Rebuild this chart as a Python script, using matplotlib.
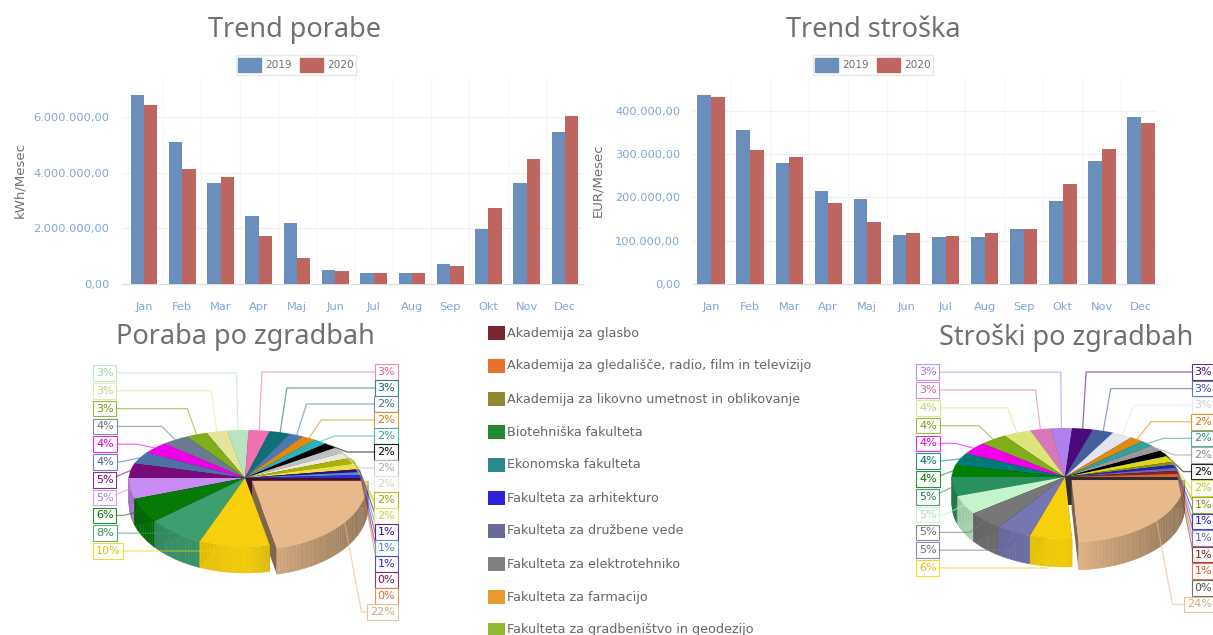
#! /usr/bin/env python3

# Trend and building charts for energy use and cost

import numpy as np
import matplotlib
matplotlib.use("Agg")
import matplotlib.pyplot as plt
from matplotlib.patches import Rectangle, Patch
from matplotlib.ticker import FuncFormatter

months = ['Jan', 'Feb', 'Mar', 'Apr', 'Maj', 'Jun', 'Jul', 'Aug', 'Sep', 'Okt', 'Nov', 'Dec']
years = ['2019', '2020']

use_2019 = [6790000, 5100000, 3630000, 2450000, 2180000, 510000, 380000, 410000, 720000, 1970000, 3630000, 5450000]
use_2020 = [6430000, 4130000, 3840000, 1730000, 940000, 460000, 410000, 410000, 630000, 2720000, 4480000, 6040000]
cost_2019 = [436000, 356000, 280000, 215000, 196000, 113000, 108000, 108000, 127000, 192000, 284000, 386000]
cost_2020 = [432000, 310000, 293000, 187000, 143000, 117000, 111000, 118000, 127000, 231000, 312000, 372000]

# pie slices clockwise, the big slice first
use_shares = [22, 10, 8, 6, 5, 5, 4, 4, 4, 3, 3, 3, 3, 3, 2, 2, 2, 2, 2, 2, 2, 2, 1, 1, 1, 0, 0]
use_colors = ['#e8b98a', '#f7cf0a', '#3d9e70', '#057a05', '#c98cf5', '#7a0a7a', '#4f6fa8',
              '#f000e8', '#6b7a8f', '#7fae1a', '#e4e49c', '#b8e4c0', '#f070b0', '#0f6f78',
              '#4a7ab0', '#e08a10', '#30b0b8', '#000000', '#c0c0c0', '#e8e8dc', '#b0b000',
              '#e4e44a', '#3a0a80', '#5a8ad0', '#3030d0', '#7a1a5a', '#e08040']
cost_shares = [24, 6, 5, 5, 5, 5, 4, 4, 4, 4, 4, 3, 3, 3, 3, 3, 2, 2, 2, 2, 2, 1, 1, 1, 1, 1, 0]
cost_colors = ['#e8b98a', '#f7cf0a', '#7676b0', '#777777', '#c4f4cc', '#2a9060', '#008000',
               '#007a78', '#f000e8', '#7fae1a', '#dce47a', '#d878b8', '#b080f0', '#4a0a7a',
               '#44609c', '#e4e4f0', '#e08a10', '#30a0a0', '#999999', '#000000', '#d8d820',
               '#909010', '#2020c8', '#6a6ab0', '#8a2020', '#e06030', '#555555']

legend_names = ['Akademija za glasbo', 'Akademija za gledališče, radio, film in televizijo',
                'Akademija za likovno umetnost in oblikovanje', 'Biotehniška fakulteta',
                'Ekonomska fakulteta', 'Fakulteta za arhitekturo', 'Fakulteta za družbene vede',
                'Fakulteta za elektrotehniko', 'Fakulteta za farmacijo',
                'Fakulteta za gradbeništvo in geodezijo']
legend_colors = ['#7a2630', '#e8702a', '#8a8a30', '#1f8a30', '#2a8a90', '#3020d8',
                 '#6a6a98', '#808080', '#e89a30', '#90b830']

BLUE = '#6b8fbc'
RED = '#bf6560'
TICK = '#7ea6d8'
GREY = '#707070'
W, H = 1213, 635

plt.rcParams['font.family'] = ['Noto Sans', 'DejaVu Sans']
fig = plt.figure(figsize=(W / 100, H / 100), dpi=100)


def slo_number(v, pos=None):
    s = f'{v:,.2f}'
    return s.replace(',', ' ').replace('.', ',').replace(' ', '.')


def trend(left, right, first, last, vals_a, vals_b, ymax, step, ylabel, ylabel_x, leg_x):
    ax = fig.add_axes([left / W, 1 - 284 / H, (right - left) / W, 206 / H])
    x = np.arange(len(months))
    ax.bar(x - 0.175, vals_a, 0.35, color=BLUE, zorder=3)
    ax.bar(x + 0.175, vals_b, 0.35, color=RED, zorder=3)
    unit = (last - first) / 11
    ax.set_xlim(-(first - left) / unit, 11 + (right - last) / unit)
    ax.set_ylim(0, ymax)
    ax.set_xticks(x, months)
    ax.set_yticks(np.arange(0, ymax, step))
    ax.yaxis.set_major_formatter(FuncFormatter(slo_number))
    ax.set_xticks(x[:-1] + 0.5, minor=True)
    ax.tick_params(axis='y', which='both', length=0, pad=9)
    ax.tick_params(axis='x', which='both', length=0, pad=13)
    for lab in ax.get_xticklabels() + ax.get_yticklabels():
        lab.set_family('DejaVu Sans')
        lab.set_fontsize(8.2)
        lab.set_color(TICK)
    ax.grid(axis='y', color='#f0f0f0', lw=0.8, zorder=0)
    ax.grid(axis='x', which='minor', color='#f5f5f8', lw=0.8, zorder=0)
    for side in ['top', 'right', 'left']:
        ax.spines[side].set_visible(False)
    ax.spines['bottom'].set_color('#d8dce4')
    fig.text(ylabel_x / W, 1 - 180 / H, ylabel, rotation=90, color=GREY, fontsize=9.5,
             ha='center', va='center', family='DejaVu Sans')
    fig.legend(handles=[Patch(color=BLUE, label=years[0]), Patch(color=RED, label=years[1])],
               loc='center', bbox_to_anchor=(leg_x / W, 1 - 65 / H), ncol=2,
               prop={'family': 'DejaVu Sans', 'size': 7.6},
               frameon=True, edgecolor='#e8e8e8', fancybox=False, framealpha=1,
               handlelength=2.2, handleheight=1.8, handletextpad=0.4, columnspacing=0.8,
               borderpad=0.2, labelcolor=GREY)


def shade(color, f):
    rgb = np.array(matplotlib.colors.to_rgb(color))
    return tuple(np.clip(rgb * f, 0, 1))


def pie3d(ax, shares, colors, cx, cy, rx, ry_back, ry_front, depth, n_left, left_col, right_col, blast):
    total = sum(shares)
    angles = -np.cumsum([0] + shares) / total * 2 * np.pi
    mids = (angles[:-1] + angles[1:]) / 2

    # the near half of the pie is drawn taller, as in the perspective of the original
    def pt(th):
        s = np.sin(th)
        return cx + rx * np.cos(th), cy - np.where(s > 0, ry_back, ry_front) * s

    # back slices first, front slices over them
    for i in np.argsort(-np.sin(mids)):
        a, b = angles[i], angles[i + 1]
        off = blast if i == 0 else 0
        dx, dy = off * np.cos(mids[i]), -off * 0.5 * np.sin(mids[i])
        arc = np.linspace(a, b, max(int((a - b) * 40), 2))
        px, py = pt(arc)
        px = px + dx
        py = py + dy
        for k in [a, b]:
            ex, ey = pt(k)
            ax.fill([cx + dx, ex + dx, ex + dx, cx + dx], [cy + dy, ey + dy, ey + dy + depth, cy + dy + depth],
                    color=shade(colors[i], 0.55), lw=0, zorder=2)
        for j in range(len(arc) - 1):
            if np.sin(arc[j]) > 0.03:
                continue
            c = np.cos(arc[j])
            f = 0.98 - 0.35 * max(c, 0) - 0.15 * max(-c, 0)
            ax.fill([px[j], px[j + 1], px[j + 1], px[j]],
                    [py[j], py[j + 1], py[j + 1] + depth, py[j] + depth],
                    color=shade(colors[i], f), lw=0.3, zorder=2)
        ax.fill(np.r_[cx + dx, px], np.r_[cy + dy, py], color=colors[i], lw=0, zorder=2)

    # leader lines and the label boxes
    n = len(shares)
    rows = []
    for r in range(n_left):
        rows.append((r + 1, left_col[0], left_col[1] - r * left_col[2], 'left'))
    for r in range(n - n_left - 1):
        rows.append((n_left + 1 + r, right_col[0], right_col[1] + r * right_col[2], 'right'))
    rows.append((0, right_col[0], right_col[1] + (n - n_left - 1) * right_col[2], 'right'))
    for i, lx, ly, ha in rows:
        ex, ey = pt(mids[i])
        if i == 0:
            ex += blast
        elbow = ex + 22 * np.cos(mids[i])
        ax.plot([lx, elbow, ex], [ly, ly, ey], color=colors[i], lw=0.9, alpha=0.6, zorder=3)
        ax.text(lx, ly, f'{shares[i]}%', color=shade(colors[i], 0.9), fontsize=8, ha=ha, va='center', zorder=4,
                family='DejaVu Sans',
                bbox=dict(boxstyle='square,pad=0.25', fc='white', ec=colors[i], lw=0.8, alpha=0.85))


trend(122, 583, 144, 565, use_2019, use_2020, 7400000, 2000000, 'kWh/Mesec', 20, 296)
trend(693, 1157, 711, 1141, cost_2019, cost_2020, 475000, 100000, 'EUR/Mesec', 598, 873)

over = fig.add_axes([0, 0, 1, 1], facecolor='none')
over.set_xlim(0, W)
over.set_ylim(H, 0)
over.axis('off')

over.text(295, 30, 'Trend porabe', fontsize=19.5, color=GREY, ha='center', va='center')
over.text(873, 30, 'Trend stroška', fontsize=19.5, color=GREY, ha='center', va='center')
over.text(245, 337, 'Poraba po zgradbah', fontsize=19.5, color=GREY, ha='center', va='center')
over.text(1066, 338, 'Stroški po zgradbah', fontsize=19.5, color=GREY, ha='center', va='center')

pie3d(over, use_shares, use_colors, 245, 478, 116, 48, 69, 26, 11, (96, 551, 17.8), (395, 372, 16), 9)
pie3d(over, cost_shares, cost_colors, 1065, 477, 113, 49, 62, 28, 12, (919, 568, 17.8), (1212, 372, 16.6), 9)

for i, name in enumerate(legend_names):
    y = 333 + i * 33
    over.add_patch(Rectangle((488, y - 7), 17, 14, color=legend_colors[i], lw=0))
    over.text(507, y, name, fontsize=9.2, color='#666666', va='center', family='DejaVu Sans')

fig.savefig('out.png', dpi=100)
